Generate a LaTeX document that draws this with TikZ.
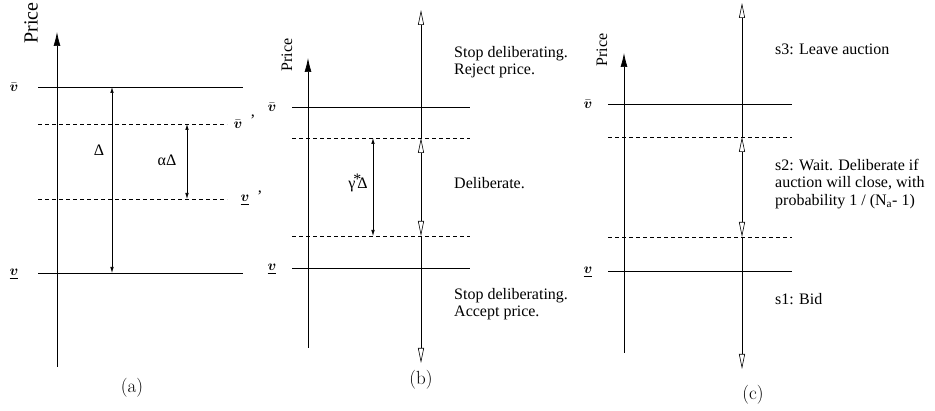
\documentclass[tikz,border=0pt]{standalone}
\usepackage{fontspec}
\usepackage{amsmath}
\usetikzlibrary{arrows.meta}
\newfontfamily\tms{Liberation Serif}
\newfontfamily\lmr{Latin Modern Roman}

\tikzset{
  level/.style={line width=0.7pt},
  dlevel/.style={line width=0.6pt, dash pattern=on 4pt off 3pt},
  priceaxis/.style={line width=0.7pt, -{Latex[length=14pt,width=7pt]}},
  gap/.style={line width=0.6pt, {Latex[length=6pt,width=3.5pt]}-{Latex[length=6pt,width=3.5pt]}},
  openend/.style={line width=0.6pt, -{Triangle[open,length=15pt,width=6pt]}},
  openboth/.style={line width=0.6pt, {Triangle[open,length=15pt,width=6pt]}-{Triangle[open,length=15pt,width=6pt]}},
  txt/.style={font=\tms\fontsize{16}{17.5}\selectfont, anchor=west, inner sep=0pt, align=left},
  vlbl/.style={inner sep=0pt},
  pricelbl/.style={font=\tms\fontsize{16}{16}\selectfont, rotate=90, inner sep=0pt},
  sublbl/.style={font=\lmr\fontsize{19}{21}\selectfont, inner sep=0pt}
}
\newcommand{\vhi}{\scalebox{1.45}{$\bar{\boldsymbol{v}}$}}
\newcommand{\vlo}{\scalebox{1.45}{$\underline{\boldsymbol{v}}$}}

\begin{document}
\begin{tikzpicture}[x=1pt, y=-1pt]
  \useasboundingbox (0,0) rectangle (935,411);

  % (a)
  \coordinate (aBot) at (57,367);
  \coordinate (aTop) at (57,32);
  \draw[priceaxis] (aBot) -- (aTop);
  \node[pricelbl, font=\tms\fontsize{20}{20}\selectfont] (aPrice) at (31,23) {Price};
  \draw[level] (38,87) -- (243,87);
  \draw[dlevel] (38,124) -- (227,124);
  \draw[dlevel] (38,199) -- (227,199);
  \draw[level] (38,273) -- (243,273);
  \node[vlbl] (aHi) at (14,87) {\vhi};
  \node[vlbl] (aLo) at (14,274) {\vlo};
  \node[vlbl] (aHiP) at (238,124) {\vhi};
  \node[txt] (aHiQ) at (250,120) {’};
  \node[vlbl] (aLoP) at (245,200) {\vlo};
  \node[txt] (aLoQ) at (257,196) {’};
  \coordinate (aD1) at (112,87);
  \coordinate (aD2) at (112,273);
  \draw[gap] (aD1) -- (aD2);
  \node[txt, anchor=center] (aDelta) at (99,150) {Δ};
  \coordinate (aA1) at (187,124);
  \coordinate (aA2) at (187,199);
  \draw[gap] (aA1) -- (aA2);
  \node[txt, anchor=center] (aAlpha) at (167,160) {αΔ};
  \node[sublbl] (capA) at (132,388) {(a)};

  % (b)
  \coordinate (bBot) at (308,348);
  \coordinate (bTop) at (308,58);
  \draw[priceaxis] (bBot) -- (bTop);
  \node[pricelbl] (bPrice) at (287,55) {Price};
  \draw[level] (292,107) -- (470,107);
  \draw[dlevel] (292,138) -- (470,138);
  \draw[dlevel] (292,236) -- (470,236);
  \draw[level] (292,268) -- (470,268);
  \node[vlbl] (bHi) at (272,107) {\vhi};
  \node[vlbl] (bLo) at (272,269) {\vlo};
  \coordinate (bG1) at (373,138);
  \coordinate (bG2) at (373,236);
  \draw[gap] (bG1) -- (bG2);
  \node[txt, anchor=center] (bGamma) at (358,183) {γ\kern-2pt\raisebox{4pt}{*}\kern-4pt Δ};
  \coordinate (bS1) at (421,138);
  \coordinate (bS2) at (421,236);
  \coordinate (bS3) at (421,10);
  \coordinate (bS4) at (421,363);
  \draw[openboth] (bS1) -- (bS2);
  \draw[openend] (bS1) -- (bS3);
  \draw[openend] (bS2) -- (bS4);
  \node[txt] (bReject) at (454,62) {Stop deliberating.\\Reject price.};
  \node[txt] (bDelib) at (454,183) {Deliberate.};
  \node[txt] (bAccept) at (454,304) {Stop deliberating.\\Accept price.};
  \node[sublbl] (capB) at (421,380) {(b)};

  % (c)
  \coordinate (cBot) at (624,353);
  \coordinate (cTop) at (624,53);
  \draw[priceaxis] (cBot) -- (cTop);
  \node[pricelbl] (cPrice) at (602,50) {Price};
  \draw[level] (608,104) -- (792,104);
  \draw[dlevel] (608,137) -- (792,137);
  \draw[dlevel] (608,237) -- (792,237);
  \draw[level] (608,271) -- (792,271);
  \node[vlbl] (cHi) at (588,104) {\vhi};
  \node[vlbl] (cLo) at (588,272) {\vlo};
  \coordinate (cS1) at (742,137);
  \coordinate (cS2) at (742,237);
  \coordinate (cS3) at (742,3);
  \coordinate (cS4) at (742,369);
  \draw[openboth] (cS1) -- (cS2);
  \draw[openend] (cS1) -- (cS3);
  \draw[openend] (cS2) -- (cS4);
  \node[txt] (cLeave) at (775,49) {s3: Leave auction};
  \node[txt] (cWait) at (775,184) {s2: Wait. Deliberate if\\auction will close, with\\probability 1 / (N\textsubscript{a}- 1)};
  \node[txt] (cBid) at (775,299) {s1: Bid};
  \node[sublbl] (capC) at (753,395) {(c)};
\end{tikzpicture}
\end{document}
